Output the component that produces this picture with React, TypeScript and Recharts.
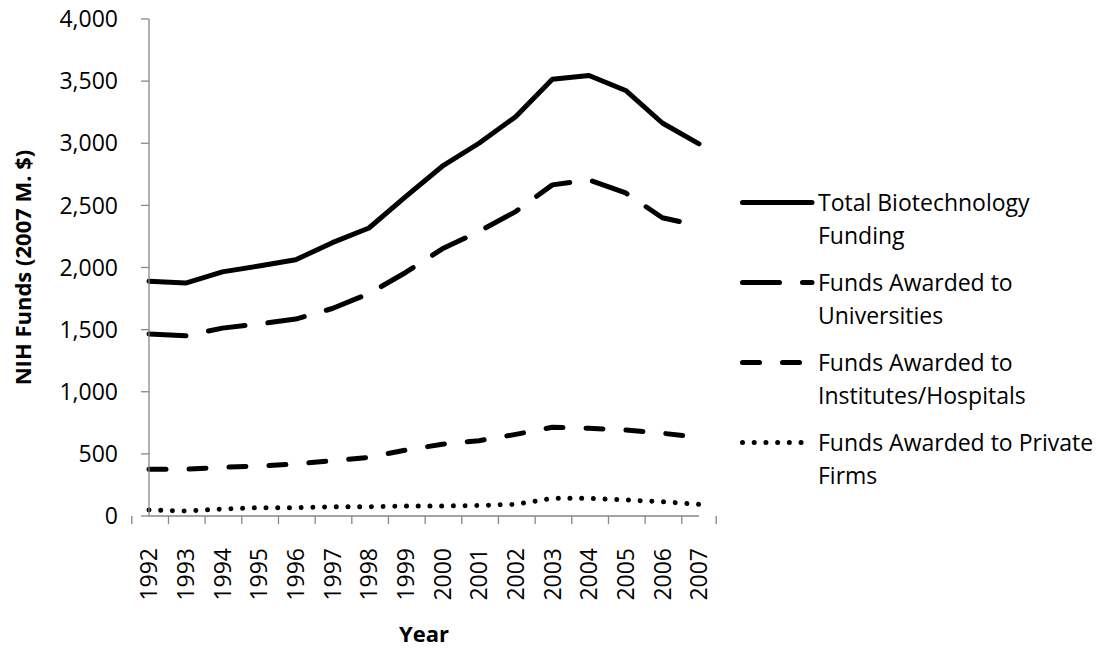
import React from 'react';
import { LineChart, Line, XAxis, YAxis, Label } from 'recharts';

const years = ['1992', '1993', '1994', '1995', '1996', '1997', '1998', '1999', '2000', '2001', '2002', '2003', '2004', '2005', '2006', '2007'];
const totalFunding = [1890, 1875, 1965, 2012, 2062, 2200, 2318, 2570, 2815, 3000, 3214, 3515, 3545, 3425, 3163, 2995];
const universities = [1465, 1450, 1512, 1545, 1585, 1670, 1790, 1960, 2150, 2290, 2450, 2665, 2705, 2600, 2400, 2335];
const institutes = [376, 376, 392, 402, 418, 445, 472, 531, 577, 606, 657, 714, 706, 692, 666, 633];
const privateFirms = [48, 40, 56, 67, 67, 75, 75, 80, 80, 85, 94, 142, 142, 129, 115, 94];
const yTicks = [0, 500, 1000, 1500, 2000, 2500, 3000, 3500, 4000];

const FONT = '"Open Sans", sans-serif';
const AXIS = '#878787';

// chart frame
const W = 1103;
const H = 651;
const MARGIN = { top: 19, right: 404, bottom: 0, left: 0 };
const Y_AXIS_W = 149;
const X_AXIS_H = 135;
const BAND = (W - MARGIN.left - MARGIN.right - Y_AXIS_W) / years.length;

const series = [
  { key: 'total', name: 'Total Biotechnology Funding', dash: undefined },
  { key: 'universities', name: 'Funds Awarded to Universities', dash: '37 23' },
  { key: 'institutes', name: 'Funds Awarded to Institutes/Hospitals', dash: '17 23' },
  { key: 'privateFirms', name: 'Funds Awarded to Private Firms', dash: '0.01 11.7' },
];

const data = years.map((year, i) => ({
  year,
  total: totalFunding[i],
  universities: universities[i],
  institutes: institutes[i],
  privateFirms: privateFirms[i],
}));

const XTick = (props: any) => {
  const { x, y, payload, index } = props;
  const left = x - BAND / 2;
  return (
    <g>
      <line x1={left} x2={left} y1={y} y2={y + 8} stroke={AXIS} strokeWidth={1.3} />
      {index === years.length - 1 && (
        <line x1={x + BAND / 2} x2={x + BAND / 2} y1={y} y2={y + 8} stroke={AXIS} strokeWidth={1.3} />
      )}
      <text
        transform={`translate(${x},${y + 32}) rotate(-90)`}
        textAnchor="end"
        dy="0.36em"
        fontSize={23}
        fontFamily={FONT}
        fill="#000"
      >
        {payload.value}
      </text>
    </g>
  );
};

const Legend = () => (
  <div style={{ position: 'absolute', left: 740, top: 186, fontFamily: FONT, fontSize: 23, lineHeight: '33px', color: '#000' }}>
    {series.map((s) => (
      <div key={s.key} style={{ display: 'flex', alignItems: 'flex-start', marginBottom: 14 }}>
        <svg width={78} height={33} style={{ flexShrink: 0 }}>
          <line
            x1={2.5}
            x2={72}
            y1={16.5}
            y2={16.5}
            stroke="#000"
            strokeWidth={5}
            strokeLinecap="round"
            strokeDasharray={s.dash}
          />
        </svg>
        <div style={{ width: 280 }}>{s.name}</div>
      </div>
    ))}
  </div>
);

export default function App() {
  return (
    <div style={{ position: 'absolute', left: 0, top: 0, width: W, height: H, background: '#fff' }}>
      <LineChart width={W} height={H} data={data} margin={MARGIN}>
        <XAxis
          dataKey="year"
          height={X_AXIS_H}
          axisLine={{ stroke: AXIS, strokeWidth: 1.3 }}
          tickLine={false}
          tickSize={0}
          tickMargin={0}
          interval={0}
          tick={<XTick />}
        >
          <Label
            content={(p: any) => {
              const vb = p.viewBox;
              return (
                <text
                  x={vb.x + vb.width / 2}
                  y={vb.y + 126}
                  textAnchor="middle"
                  fontFamily={FONT}
                  fontWeight={700}
                  fontSize={22}
                  fill="#000"
                >
                  Year
                </text>
              );
            }}
          />
        </XAxis>
        <YAxis
          width={Y_AXIS_W}
          domain={[0, 4000]}
          ticks={yTicks}
          interval={0}
          axisLine={{ stroke: AXIS, strokeWidth: 1.3 }}
          tickLine={{ stroke: AXIS, strokeWidth: 1.3 }}
          tickSize={8}
          tickMargin={23}
          tickFormatter={(v: number) => v.toLocaleString('en-US')}
          tick={{ fill: '#000', fontSize: 23, fontFamily: FONT }}
        >
          <Label
            content={(p: any) => {
              const vb = p.viewBox;
              const cy = vb.y + vb.height / 2;
              return (
                <text
                  transform={`translate(${vb.x + 22},${cy}) rotate(-90)`}
                  textAnchor="middle"
                  dominantBaseline="central"
                  fontFamily={FONT}
                  fontWeight={700}
                  fontSize={22}
                  fill="#000"
                >
                  NIH Funds (2007 M. $)
                </text>
              );
            }}
          />
        </YAxis>
        {series.map((s) => (
          <Line
            key={s.key}
            type="linear"
            dataKey={s.key}
            name={s.name}
            stroke="#000"
            strokeWidth={5}
            strokeDasharray={s.dash}
            strokeLinecap="round"
            strokeLinejoin="round"
            dot={false}
            activeDot={false}
            isAnimationActive={false}
          />
        ))}
      </LineChart>
      <Legend />
    </div>
  );
}
